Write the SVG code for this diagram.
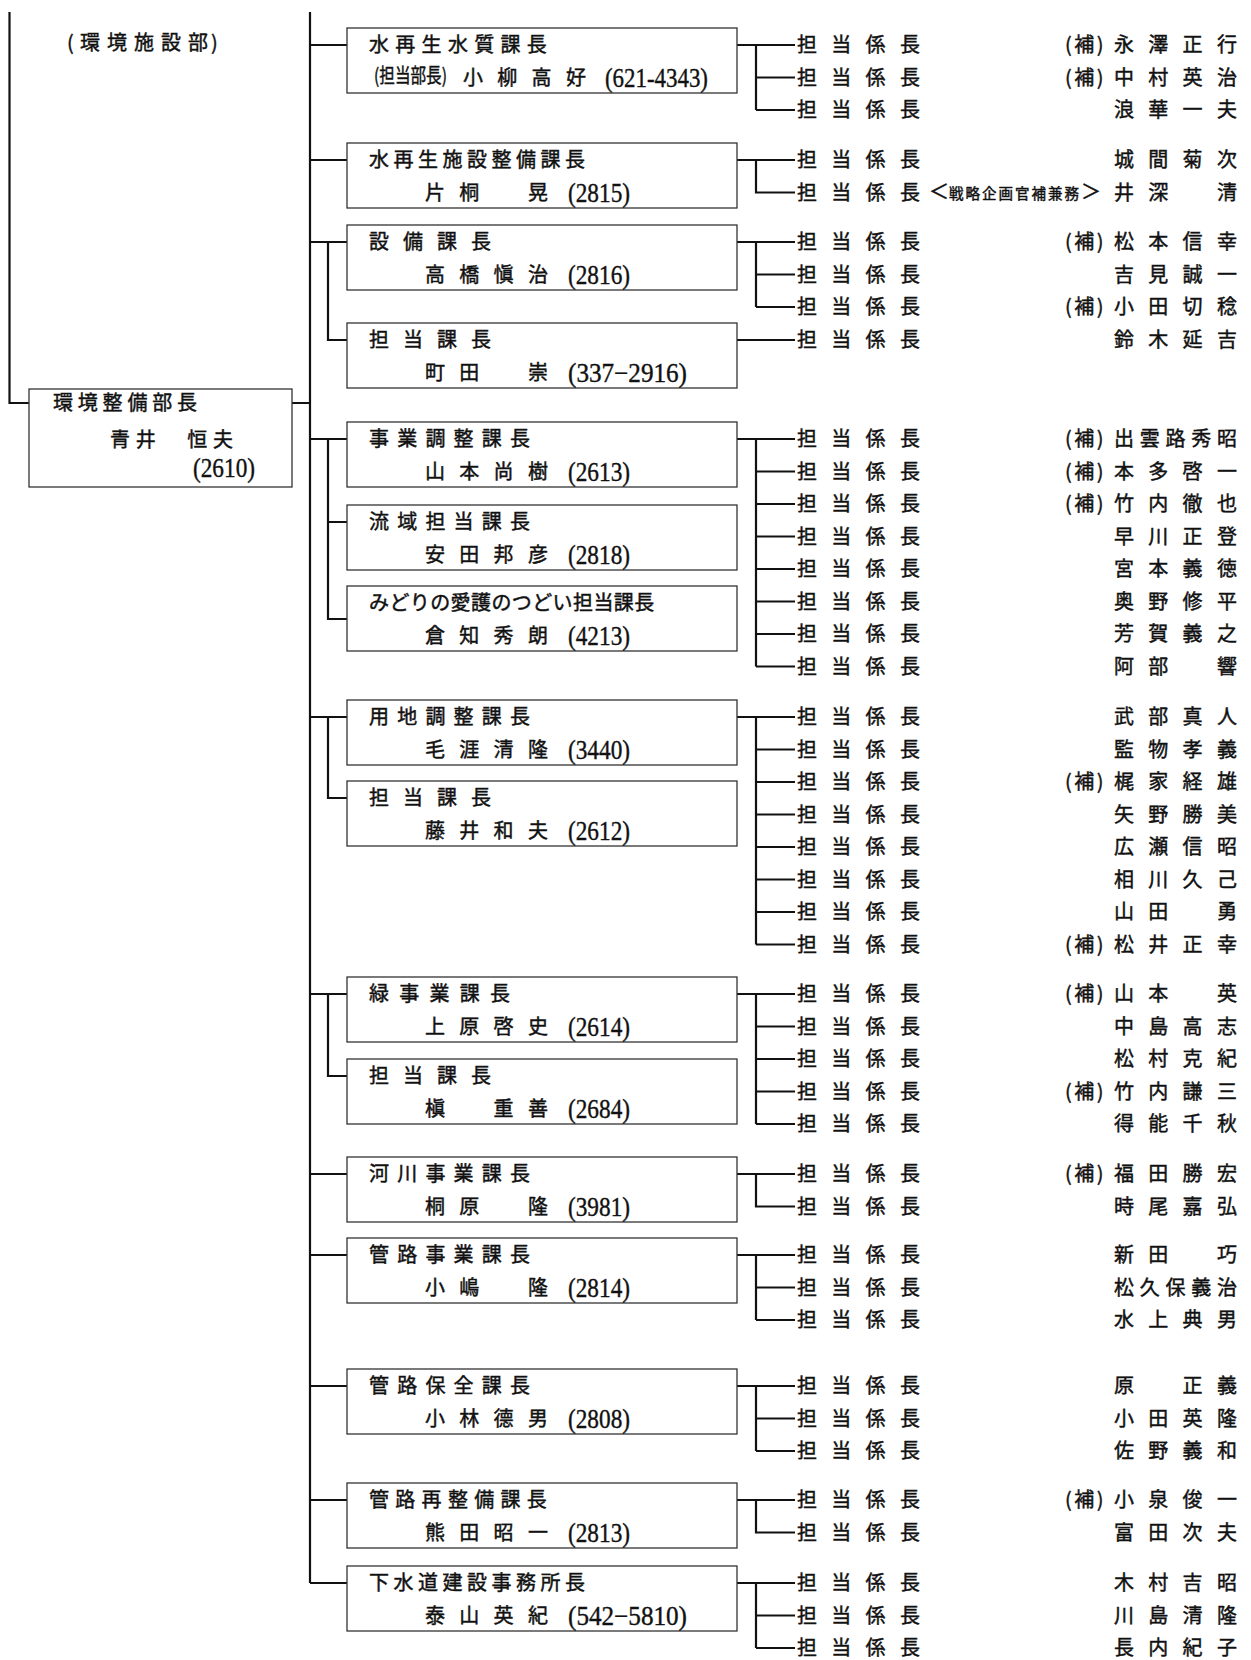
<svg xmlns="http://www.w3.org/2000/svg" width="1251" height="1660" viewBox="0 0 1251 1660">
<style>
.t{font-family:"Noto Sans CJK JP","Noto Sans CJK SC",sans-serif;font-size:20px;fill:#111;stroke:#111;stroke-width:0.45px}
.k{letter-spacing:14.3px}
.k5{letter-spacing:5.75px}
.h{letter-spacing:2.5px}
.n{font-family:"Liberation Serif",serif;font-size:27px;fill:#111;stroke:#111;stroke-width:0.4px}
.ln{fill:none;stroke:#111;stroke-width:2.2}
.bx{fill:#fff;stroke:#333;stroke-width:1.3}
</style>
<rect width="1251" height="1660" fill="#fff"/>
<g id="connectors">
<path class="ln" d="M310,12V1583M9.5,12V403H29M292,403H310"/>
<path class="ln" d="M310,45H347M310,160H347M310,242H347M328,242V340H347M310,439H347M328,439V619H347M328,522H347M310,717H347M328,717V798H347M310,994H347M328,994V1076H347M310,1174H347M310,1255H347M310,1386H347M310,1500H347M310,1583H347"/>
<path class="ln" d="M737,45H795M756,45V110M756,77.5H795M756,110H795"/>
<path class="ln" d="M737,160H795M756,160V192.5H795"/>
<path class="ln" d="M737,242H795M756,242V307M756,274.5H795M756,307H795"/>
<path class="ln" d="M737,340H795"/>
<path class="ln" d="M737,439H795M756,439V666.5M756,471.5H795M756,504H795M756,536.5H795M756,569H795M756,601.5H795M756,634H795M756,666.5H795"/>
<path class="ln" d="M737,717H795M756,717V944.5M756,749.5H795M756,782H795M756,814.5H795M756,847H795M756,879.5H795M756,912H795M756,944.5H795"/>
<path class="ln" d="M737,994H795M756,994V1124M756,1026.5H795M756,1059H795M756,1091.5H795M756,1124H795"/>
<path class="ln" d="M737,1174H795M756,1174V1206.5H795"/>
<path class="ln" d="M737,1255H795M756,1255V1320M756,1287.5H795M756,1320H795"/>
<path class="ln" d="M737,1386H795M756,1386V1451M756,1418.5H795M756,1451H795"/>
<path class="ln" d="M737,1500H795M756,1500V1532.5H795"/>
<path class="ln" d="M737,1583H795M756,1583V1648M756,1615.5H795M756,1648H795"/>
</g>
<g id="label-top"><text class="t" x="67 80 107 134 161 188 211" y="50">(環境施設部)</text></g>
<g id="n-head"><rect class="bx" x="29" y="389" width="263" height="98"/>
<text class="t" x="53" y="410" letter-spacing="4.8">環境整備部長</text>
<text class="t" x="110" y="447" letter-spacing="5.75">青井　恒夫</text>
<text class="n" x="193" y="477" textLength="62" lengthAdjust="spacingAndGlyphs">(2610)</text></g>

<g id="n-b1"><rect class="bx" x="347" y="28" width="390" height="65"/>
<text class="t" x="369" y="52" letter-spacing="6.3">水再生水質課長</text>
<text class="t" x="374" y="83" font-size="13" textLength="73" lengthAdjust="spacingAndGlyphs">(担当部長)</text>
<text class="t k" x="463" y="85">小柳高好</text>
<text class="n" x="605" y="87" textLength="103" lengthAdjust="spacingAndGlyphs">(621-4343)</text></g>
<g id="n-b2"><rect class="bx" x="347" y="143" width="390" height="65"/>
<text class="t" x="369" y="167" letter-spacing="4.5">水再生施設整備課長</text>
<text class="t k" x="425" y="200">片桐　晃</text>
<text class="n" x="568" y="202" textLength="62" lengthAdjust="spacingAndGlyphs">(2815)</text></g>
<g id="n-b3"><rect class="bx" x="347" y="225" width="390" height="65"/>
<text class="t" x="369" y="249" letter-spacing="14">設備課長</text>
<text class="t k" x="425" y="282">高橋愼治</text>
<text class="n" x="568" y="284" textLength="62" lengthAdjust="spacingAndGlyphs">(2816)</text></g>
<g id="n-b4"><rect class="bx" x="347" y="323" width="390" height="65"/>
<text class="t" x="369" y="347" letter-spacing="14">担当課長</text>
<text class="t k" x="425" y="380">町田　崇</text>
<text class="n" x="568" y="382" textLength="119" lengthAdjust="spacingAndGlyphs">(337−2916)</text></g>
<g id="n-b5"><rect class="bx" x="347" y="422" width="390" height="65"/>
<text class="t" x="369" y="446" letter-spacing="8.2">事業調整課長</text>
<text class="t k" x="425" y="479">山本尚樹</text>
<text class="n" x="568" y="481" textLength="62" lengthAdjust="spacingAndGlyphs">(2613)</text></g>
<g id="n-b6"><rect class="bx" x="347" y="505" width="390" height="65"/>
<text class="t" x="369" y="529" letter-spacing="8.2">流域担当課長</text>
<text class="t k" x="425" y="562">安田邦彦</text>
<text class="n" x="568" y="564" textLength="62" lengthAdjust="spacingAndGlyphs">(2818)</text></g>
<g id="n-b7"><rect class="bx" x="347" y="586" width="390" height="65"/>
<text class="t" x="369" y="610" letter-spacing="0.4">みどりの愛護のつどい担当課長</text>
<text class="t k" x="425" y="643">倉知秀朗</text>
<text class="n" x="568" y="645" textLength="62" lengthAdjust="spacingAndGlyphs">(4213)</text></g>
<g id="n-b8"><rect class="bx" x="347" y="700" width="390" height="65"/>
<text class="t" x="369" y="724" letter-spacing="8.2">用地調整課長</text>
<text class="t k" x="425" y="757">毛涯清隆</text>
<text class="n" x="568" y="759" textLength="62" lengthAdjust="spacingAndGlyphs">(3440)</text></g>
<g id="n-b9"><rect class="bx" x="347" y="781" width="390" height="65"/>
<text class="t" x="369" y="805" letter-spacing="14">担当課長</text>
<text class="t k" x="425" y="838">藤井和夫</text>
<text class="n" x="568" y="840" textLength="62" lengthAdjust="spacingAndGlyphs">(2612)</text></g>
<g id="n-b10"><rect class="bx" x="347" y="977" width="390" height="65"/>
<text class="t" x="369" y="1001" letter-spacing="10.25">緑事業課長</text>
<text class="t k" x="425" y="1034">上原啓史</text>
<text class="n" x="568" y="1036" textLength="62" lengthAdjust="spacingAndGlyphs">(2614)</text></g>
<g id="n-b11"><rect class="bx" x="347" y="1059" width="390" height="65"/>
<text class="t" x="369" y="1083" letter-spacing="14">担当課長</text>
<text class="t k" x="425" y="1116">槇　重善</text>
<text class="n" x="568" y="1118" textLength="62" lengthAdjust="spacingAndGlyphs">(2684)</text></g>
<g id="n-b12"><rect class="bx" x="347" y="1157" width="390" height="65"/>
<text class="t" x="369" y="1181" letter-spacing="8.2">河川事業課長</text>
<text class="t k" x="425" y="1214">桐原　隆</text>
<text class="n" x="568" y="1216" textLength="62" lengthAdjust="spacingAndGlyphs">(3981)</text></g>
<g id="n-b13"><rect class="bx" x="347" y="1238" width="390" height="65"/>
<text class="t" x="369" y="1262" letter-spacing="8.2">管路事業課長</text>
<text class="t k" x="425" y="1295">小嶋　隆</text>
<text class="n" x="568" y="1297" textLength="62" lengthAdjust="spacingAndGlyphs">(2814)</text></g>
<g id="n-b14"><rect class="bx" x="347" y="1369" width="390" height="65"/>
<text class="t" x="369" y="1393" letter-spacing="8.2">管路保全課長</text>
<text class="t k" x="425" y="1426">小林德男</text>
<text class="n" x="568" y="1428" textLength="62" lengthAdjust="spacingAndGlyphs">(2808)</text></g>
<g id="n-b15"><rect class="bx" x="347" y="1483" width="390" height="65"/>
<text class="t" x="369" y="1507" letter-spacing="6.3">管路再整備課長</text>
<text class="t k" x="425" y="1540">熊田昭一</text>
<text class="n" x="568" y="1542" textLength="62" lengthAdjust="spacingAndGlyphs">(2813)</text></g>
<g id="n-b16"><rect class="bx" x="347" y="1566" width="390" height="65"/>
<text class="t" x="369" y="1590" letter-spacing="4.5">下水道建設事務所長</text>
<text class="t k" x="425" y="1623">泰山英紀</text>
<text class="n" x="568" y="1625" textLength="119" lengthAdjust="spacingAndGlyphs">(542−5810)</text></g>

<g id="s1">
<g id="r1-1"><text class="t k" x="797" y="52">担当係長</text><text class="t h" x="1065" y="52">(補)</text><text class="t k" x="1114" y="52">永澤正行</text></g>
<g id="r1-2"><text class="t k" x="797" y="84.5">担当係長</text><text class="t h" x="1065" y="84.5">(補)</text><text class="t k" x="1114" y="84.5">中村英治</text></g>
<g id="r1-3"><text class="t k" x="797" y="117">担当係長</text><text class="t k" x="1114" y="117">浪華一夫</text></g>
</g>
<g id="s2">
<g id="r2-1"><text class="t k" x="797" y="167">担当係長</text><text class="t k" x="1114" y="167">城間菊次</text></g>
<g id="r2-2"><text class="t" x="797 831.3 865.6 900" y="199.5">担当係長</text><text class="t" x="929" y="199" font-size="18">＜<tspan font-size="14.5" letter-spacing="2">戦略企画官補兼務</tspan>＞</text><text class="t k" x="1114" y="199.5">井深　清</text></g>
</g>
<g id="s3">
<g id="r3-1"><text class="t k" x="797" y="249">担当係長</text><text class="t h" x="1065" y="249">(補)</text><text class="t k" x="1114" y="249">松本信幸</text></g>
<g id="r3-2"><text class="t k" x="797" y="281.5">担当係長</text><text class="t k" x="1114" y="281.5">吉見誠一</text></g>
<g id="r3-3"><text class="t k" x="797" y="314">担当係長</text><text class="t h" x="1065" y="314">(補)</text><text class="t k" x="1114" y="314">小田切稔</text></g>
</g>
<g id="s4">
<g id="r4-1"><text class="t k" x="797" y="347">担当係長</text><text class="t k" x="1114" y="347">鈴木延吉</text></g>
</g>
<g id="s5">
<g id="r5-1"><text class="t k" x="797" y="446">担当係長</text><text class="t h" x="1065" y="446">(補)</text><text class="t k5" x="1114" y="446">出雲路秀昭</text></g>
<g id="r5-2"><text class="t k" x="797" y="478.5">担当係長</text><text class="t h" x="1065" y="478.5">(補)</text><text class="t k" x="1114" y="478.5">本多啓一</text></g>
<g id="r5-3"><text class="t k" x="797" y="511">担当係長</text><text class="t h" x="1065" y="511">(補)</text><text class="t k" x="1114" y="511">竹内徹也</text></g>
<g id="r5-4"><text class="t k" x="797" y="543.5">担当係長</text><text class="t k" x="1114" y="543.5">早川正登</text></g>
<g id="r5-5"><text class="t k" x="797" y="576">担当係長</text><text class="t k" x="1114" y="576">宮本義徳</text></g>
<g id="r5-6"><text class="t k" x="797" y="608.5">担当係長</text><text class="t k" x="1114" y="608.5">奥野修平</text></g>
<g id="r5-7"><text class="t k" x="797" y="641">担当係長</text><text class="t k" x="1114" y="641">芳賀義之</text></g>
<g id="r5-8"><text class="t k" x="797" y="673.5">担当係長</text><text class="t k" x="1114" y="673.5">阿部　響</text></g>
</g>
<g id="s6">
<g id="r6-1"><text class="t k" x="797" y="724">担当係長</text><text class="t k" x="1114" y="724">武部真人</text></g>
<g id="r6-2"><text class="t k" x="797" y="756.5">担当係長</text><text class="t k" x="1114" y="756.5">監物孝義</text></g>
<g id="r6-3"><text class="t k" x="797" y="789">担当係長</text><text class="t h" x="1065" y="789">(補)</text><text class="t k" x="1114" y="789">梶家経雄</text></g>
<g id="r6-4"><text class="t k" x="797" y="821.5">担当係長</text><text class="t k" x="1114" y="821.5">矢野勝美</text></g>
<g id="r6-5"><text class="t k" x="797" y="854">担当係長</text><text class="t k" x="1114" y="854">広瀬信昭</text></g>
<g id="r6-6"><text class="t k" x="797" y="886.5">担当係長</text><text class="t k" x="1114" y="886.5">相川久己</text></g>
<g id="r6-7"><text class="t k" x="797" y="919">担当係長</text><text class="t k" x="1114" y="919">山田　勇</text></g>
<g id="r6-8"><text class="t k" x="797" y="951.5">担当係長</text><text class="t h" x="1065" y="951.5">(補)</text><text class="t k" x="1114" y="951.5">松井正幸</text></g>
</g>
<g id="s7">
<g id="r7-1"><text class="t k" x="797" y="1001">担当係長</text><text class="t h" x="1065" y="1001">(補)</text><text class="t k" x="1114" y="1001">山本　英</text></g>
<g id="r7-2"><text class="t k" x="797" y="1033.5">担当係長</text><text class="t k" x="1114" y="1033.5">中島高志</text></g>
<g id="r7-3"><text class="t k" x="797" y="1066">担当係長</text><text class="t k" x="1114" y="1066">松村克紀</text></g>
<g id="r7-4"><text class="t k" x="797" y="1098.5">担当係長</text><text class="t h" x="1065" y="1098.5">(補)</text><text class="t k" x="1114" y="1098.5">竹内謙三</text></g>
<g id="r7-5"><text class="t k" x="797" y="1131">担当係長</text><text class="t k" x="1114" y="1131">得能千秋</text></g>
</g>
<g id="s8">
<g id="r8-1"><text class="t k" x="797" y="1181">担当係長</text><text class="t h" x="1065" y="1181">(補)</text><text class="t k" x="1114" y="1181">福田勝宏</text></g>
<g id="r8-2"><text class="t k" x="797" y="1213.5">担当係長</text><text class="t k" x="1114" y="1213.5">時尾嘉弘</text></g>
</g>
<g id="s9">
<g id="r9-1"><text class="t k" x="797" y="1262">担当係長</text><text class="t k" x="1114" y="1262">新田　巧</text></g>
<g id="r9-2"><text class="t k" x="797" y="1294.5">担当係長</text><text class="t k5" x="1114" y="1294.5">松久保義治</text></g>
<g id="r9-3"><text class="t k" x="797" y="1327">担当係長</text><text class="t k" x="1114" y="1327">水上典男</text></g>
</g>
<g id="s10">
<g id="r10-1"><text class="t k" x="797" y="1393">担当係長</text><text class="t k" x="1114" y="1393">原　正義</text></g>
<g id="r10-2"><text class="t k" x="797" y="1425.5">担当係長</text><text class="t k" x="1114" y="1425.5">小田英隆</text></g>
<g id="r10-3"><text class="t k" x="797" y="1458">担当係長</text><text class="t k" x="1114" y="1458">佐野義和</text></g>
</g>
<g id="s11">
<g id="r11-1"><text class="t k" x="797" y="1507">担当係長</text><text class="t h" x="1065" y="1507">(補)</text><text class="t k" x="1114" y="1507">小泉俊一</text></g>
<g id="r11-2"><text class="t k" x="797" y="1539.5">担当係長</text><text class="t k" x="1114" y="1539.5">富田次夫</text></g>
</g>
<g id="s12">
<g id="r12-1"><text class="t k" x="797" y="1590">担当係長</text><text class="t k" x="1114" y="1590">木村吉昭</text></g>
<g id="r12-2"><text class="t k" x="797" y="1622.5">担当係長</text><text class="t k" x="1114" y="1622.5">川島清隆</text></g>
<g id="r12-3"><text class="t k" x="797" y="1655">担当係長</text><text class="t k" x="1114" y="1655">長内紀子</text></g>
</g>
</svg>
